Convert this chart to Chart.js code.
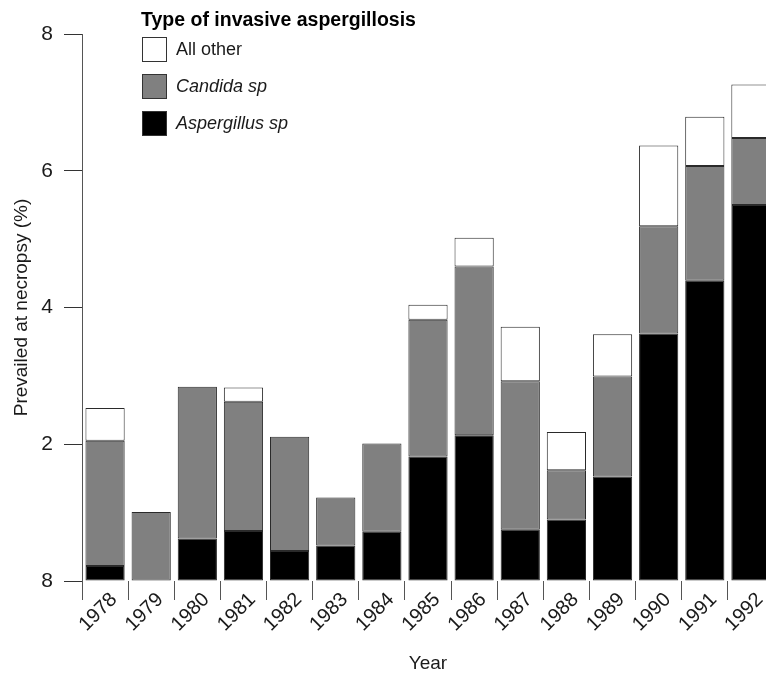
<!DOCTYPE html>
<html>
<head>
<meta charset="utf-8">
<script src="https://cdn.jsdelivr.net/npm/chart.js@4/dist/chart.umd.min.js"></script>
<style>
  html, body { margin: 0; padding: 0; background: #fff; overflow: hidden; }
  canvas { display: block; }
</style>
</head>
<body>
<canvas id="necropsyChart" width="780" height="673"></canvas>
<script>
// 年（カテゴリ）
const years = ['1978','1979','1980','1981','1982','1983','1984','1985','1986','1987','1988','1989','1990','1991','1992'];

// 各区分の値（積み上げの1段ずつ）
const aspergillus = [0.22, 0, 0.62, 0.73, 0.44, 0.52, 0.72, 1.82, 2.13, 0.75, 0.90, 1.53, 3.62, 4.39, 5.50];
const candida     = [1.83, 1.01, 2.22, 1.89, 1.67, 0.70, 1.29, 2.00, 2.47, 2.17, 0.72, 1.46, 1.57, 1.68, 0.98];
const allOther    = [0.48, 0, 0, 0.21, 0, 0, 0, 0.22, 0.42, 0.80, 0.56, 0.62, 1.18, 0.72, 0.78];

// y軸の目盛ラベル（元の図のまま、一番下は「8」）
const yTickValues = [0, 2, 4, 6, 8];
const yTickLabels = ['8', '2', '4', '6', '8'];

const legendTitle = 'Type of invasive aspergillosis';
const FONT = '"Liberation Sans", Arial, sans-serif';

/* ==================================================
  凡例（グラフ内の左上に描く）
================================================== */
const insideLegend = {
  id: 'insideLegend',
  afterDraw(chart) {
    const c = chart.ctx;
    const x0 = 142;
    c.save();
    c.fillStyle = '#000';
    c.textBaseline = 'alphabetic';
    c.font = 'bold 19.5px ' + FONT;
    c.fillText(legendTitle, x0 - 1, 26);
    // 上から All other / Candida / Aspergillus の順
    const items = chart.data.datasets.slice().reverse();
    c.textBaseline = 'middle';
    items.forEach((ds, i) => {
      const y = 37 + i * 37;
      c.fillStyle = ds.backgroundColor;
      c.fillRect(x0, y, 25, 25);
      c.strokeStyle = '#333';
      c.lineWidth = 1;
      c.strokeRect(x0 + 0.5, y + 0.5, 24, 24);
      c.fillStyle = '#1a1a1a';
      c.font = (ds.italic ? 'italic ' : '') + '18px ' + FONT;
      c.fillText(ds.label, x0 + 34, y + 13);
    });
    c.restore();
  }
};

const ctx = document.getElementById('necropsyChart').getContext('2d');
new Chart(ctx, {
  type: 'bar',
  data: {
    labels: years,
    datasets: [
      { label: 'Aspergillus sp', data: aspergillus, backgroundColor: '#000000', italic: true },
      { label: 'Candida sp', data: candida, backgroundColor: '#808080', italic: true },
      { label: 'All other', data: allOther, backgroundColor: '#ffffff', italic: false }
    ].map(ds => Object.assign(ds, {
      borderColor: '#2a2a2a',
      borderWidth: c => (c.raw ? 1 : 0),
      borderSkipped: false,
      categoryPercentage: 1,
      barPercentage: 0.85
    }))
  },
  plugins: [insideLegend],
  options: {
    responsive: false,
    animation: false,
    devicePixelRatio: 1,
    layout: { padding: { top: 34, right: 6, left: 0, bottom: 0 } },
    plugins: {
      legend: { display: false },
      tooltip: { enabled: false }
    },
    scales: {
      x: {
        stacked: true,
        offset: true,
        border: { display: false },
        grid: {
          offset: true,
          drawOnChartArea: false,
          drawTicks: true,
          tickLength: 19,
          color: '#555'
        },
        ticks: {
          minRotation: 45,
          maxRotation: 45,
          padding: -12,
          labelOffset: 9,
          color: '#1a1a1a',
          font: { family: FONT, size: 20 }
        },
        title: {
          display: true,
          text: 'Year',
          color: '#1a1a1a',
          font: { family: FONT, size: 19 },
          padding: { top: 0, bottom: -2 }
        },
        afterFit: s => { s.height = 92; }
      },
      y: {
        stacked: true,
        min: 0,
        max: 8,
        afterBuildTicks: s => { s.ticks = yTickValues.map(v => ({ value: v })); },
        border: { display: true, color: '#555', width: 1 },
        grid: {
          drawOnChartArea: false,
          drawTicks: true,
          tickLength: 18,
          color: '#333'
        },
        ticks: {
          padding: 11,
          color: '#1a1a1a',
          font: { family: FONT, size: 21 },
          callback: v => yTickLabels[yTickValues.indexOf(v)]
        },
        title: {
          display: true,
          text: 'Prevailed at necropsy (%)',
          color: '#1a1a1a',
          font: { family: FONT, size: 19 },
          padding: { top: 10, bottom: 0 }
        },
        afterFit: s => { s.width = 82; }
      }
    }
  }
});
</script>
</body>
</html>
